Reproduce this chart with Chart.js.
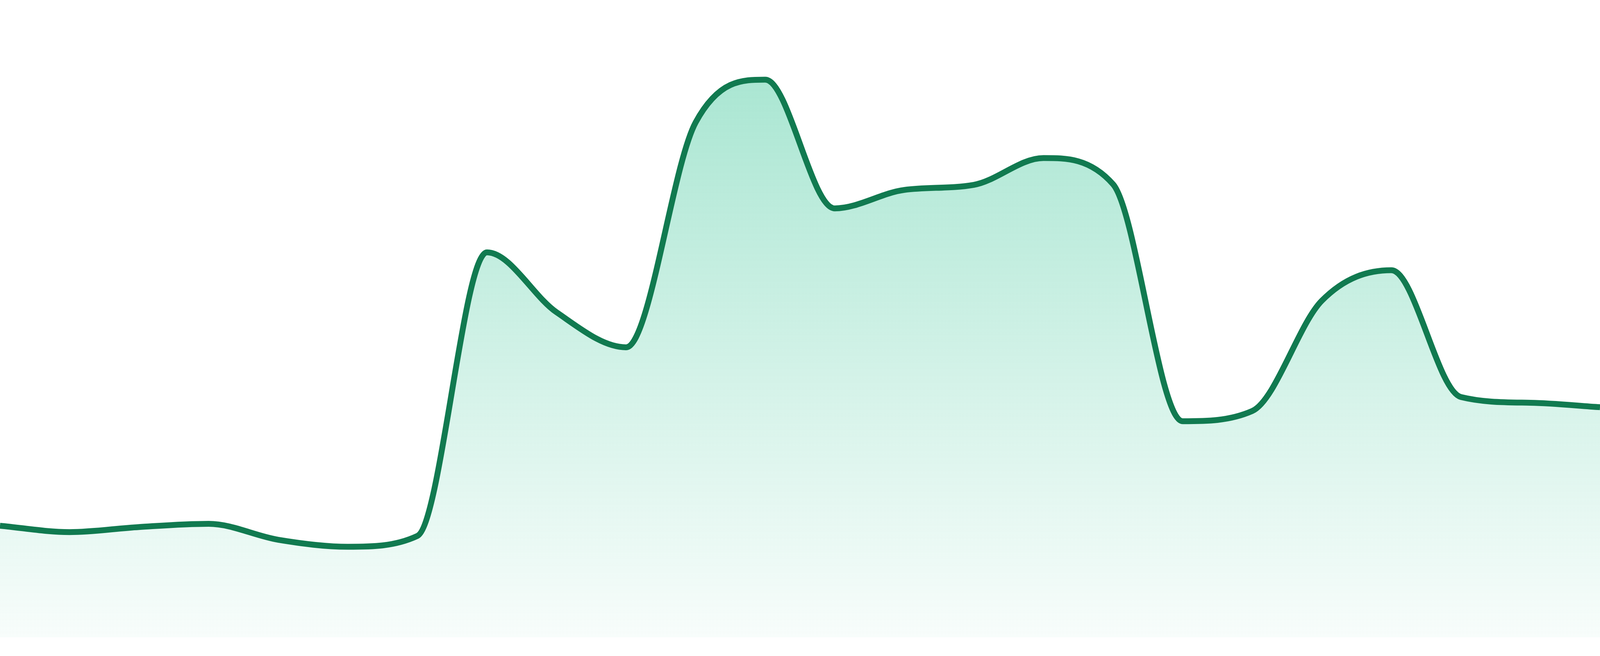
<!DOCTYPE html>
<html>
<head>
<meta charset="utf-8">
<script src="https://cdn.jsdelivr.net/npm/chart.js@4/dist/chart.umd.min.js"></script>
<style>
    html, body { margin: 0; padding: 0; background: #ffffff; overflow: hidden; }
    #wrap { width: 100vw; height: 100vh; position: relative; }
</style>
</head>
<body>
<div id="wrap"><canvas id="courbe"></canvas></div>
<script>
    // Données du graphique
    const heures = ['00h', '01h', '02h', '03h', '04h', '05h', '06h', '07h', '08h', '09h', '10h', '11h',
                    '12h', '13h', '14h', '15h', '16h', '17h', '18h', '19h', '20h', '21h', '22h', '23h'];
    const valeurs = [17.5, 16.5, 17.3, 17.8, 15.3, 14.2, 15.9, 60.4, 51.0, 45.5, 80.8, 87.5,
                     67.3, 70.2, 71.0, 75.2, 71.1, 33.9, 35.5, 52.8, 57.6, 37.7, 36.8, 36.1];
    const yMin = 0;
    const yMax = 100;

    const dpr = window.devicePixelRatio || 1;

    // Dégradé vert sous la courbe
    function degrade(context) {
        const chart = context.chart;
        const area = chart.chartArea;
        if (!area) return 'rgba(16, 185, 129, 0.2)';
        const g = chart.ctx.createLinearGradient(0, area.top, 0, area.bottom);
        g.addColorStop(0, 'rgba(16, 185, 129, 0.40)');
        g.addColorStop(1, 'rgba(16, 185, 129, 0.03)');
        return g;
    }

    function graph() {
        const ctx = document.getElementById('courbe').getContext('2d');
        const h = document.getElementById('wrap').clientHeight;
        new Chart(ctx, {
            type: 'line',
            data: {
                labels: heures,
                datasets: [{
                    data: valeurs,
                    borderColor: '#117a50',
                    borderWidth: 15 / dpr * (h * dpr / 1680),
                    backgroundColor: degrade,
                    fill: 'start',
                    cubicInterpolationMode: 'monotone',
                    pointRadius: 0,
                    pointHoverRadius: 0
                }]
            },
            options: {
                responsive: true,
                maintainAspectRatio: false,
                animation: false,
                layout: {
                    padding: { top: 0, bottom: h * 48 / 1680, left: 0, right: 0 }
                },
                plugins: {
                    legend: { display: false },
                    tooltip: { enabled: false }
                },
                scales: {
                    x: { display: false, offset: false },
                    y: { display: false, min: yMin, max: yMax }
                }
            }
        });
    }

    document.addEventListener('DOMContentLoaded', function() {
        graph();
    });
</script>
</body>
</html>
